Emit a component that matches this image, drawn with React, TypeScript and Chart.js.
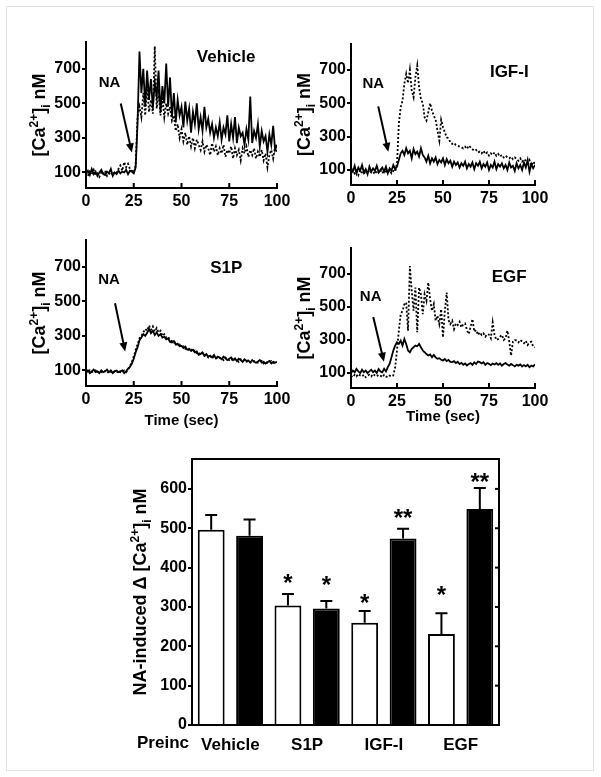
import React, { useEffect, useRef } from 'react';
import { Chart, registerables } from 'chart.js';
Chart.register(...registerables);

const FONT = '"Liberation Sans", Arial, sans-serif';
const W = 601;
const H = 777;

// ---------- time-course data (Ca2+ in nM, one reading per second) ----------
const TIME = [0,1,2,3,4,5,6,7,8,9,10,11,12,13,14,15,16,17,18,19,20,21,22,23,24,25,26,27,28,29,30,31,32,33,34,35,36,37,38,39,40,41,42,43,44,45,46,47,48,49,50,51,52,53,54,55,56,57,58,59,60,61,62,63,64,65,66,67,68,69,70,71,72,73,74,75,76,77,78,79,80,81,82,83,84,85,86,87,88,89,90,91,92,93,94,95,96,97,98,99,100];

const VEH_SOLID = [95,110,85,120,90,105,80,100,115,90,85,105,95,120,80,100,90,110,95,105,100,115,90,110,105,
  95,130,390,800,560,700,480,690,520,640,470,620,540,690,450,600,500,730,480,650,420,560,390,520,430,
  480,360,510,400,470,330,450,380,500,350,420,340,480,360,410,330,380,300,360,310,390,290,360,320,430,
  280,380,300,420,270,360,310,330,260,350,290,540,270,340,300,380,250,340,280,310,220,320,260,370,230,260];
const VEH_DOTTED = [100,80,105,90,115,85,95,75,100,90,110,80,95,85,105,90,100,120,140,110,160,130,150,120,110,
  100,140,420,480,420,560,430,600,450,520,440,830,470,560,430,540,420,500,440,480,400,430,340,380,300,
  350,280,330,260,310,250,300,240,290,260,230,280,220,260,240,200,270,220,250,200,240,210,260,190,230,
  210,250,180,240,200,230,170,240,210,250,190,230,200,240,180,220,190,230,170,210,130,200,230,180,250,220];

const IGF_SOLID = [110,90,125,80,115,95,130,85,105,75,120,90,110,95,125,85,100,115,90,120,80,110,95,130,105,
  120,160,200,215,190,230,200,215,170,225,195,210,180,230,190,175,150,185,140,170,150,175,135,160,145,
  170,130,165,140,155,120,150,130,145,115,140,125,150,110,135,120,145,105,140,125,150,110,135,120,145,
  100,130,115,150,105,135,120,140,110,130,100,145,115,125,95,140,110,130,100,145,115,160,90,135,110,130];
const IGF_DOTTED = [90,110,80,95,70,100,85,75,95,80,100,85,90,75,95,85,100,80,95,90,85,100,80,95,90,
  140,376,476,516,616,676,620,700,576,536,656,726,596,526,500,416,396,446,500,456,426,400,336,276,400,
  356,326,296,290,266,256,262,250,246,240,236,230,240,226,246,236,225,215,220,205,210,200,215,195,205,
  186,200,190,205,185,196,180,190,175,185,176,170,180,165,175,166,155,170,150,165,156,140,160,125,150,136];

const S1P_SOLID = [90,100,85,95,105,90,95,85,100,90,95,105,90,100,85,95,100,90,95,100,85,95,110,120,140,
  168,205,235,275,290,310,300,318,340,315,330,305,320,300,310,290,295,280,285,265,262,270,250,255,240,
  242,230,238,220,225,213,220,205,210,190,195,205,185,195,180,185,175,190,170,180,175,165,180,170,160,
  168,175,160,170,155,168,160,150,165,155,158,145,160,150,145,152,160,145,150,140,148,155,140,150,145,150];
const S1P_DOTTED = [95,85,100,90,95,100,85,95,90,100,95,85,95,90,100,95,85,100,90,95,100,90,105,125,150,
  180,220,250,285,300,320,340,330,360,335,355,325,345,320,330,300,310,290,295,275,270,260,265,245,250,
  235,240,225,230,215,220,205,215,200,205,190,200,185,190,175,185,170,180,175,165,172,170,160,175,165,
  160,168,155,165,160,150,165,155,160,150,155,150,145,155,150,145,150,155,140,150,145,150,155,145,140,145];

const EGF_SOLID = [100,115,105,125,110,100,120,105,115,100,110,120,105,115,100,125,110,105,126,110,136,156,196,236,266,
  286,276,296,266,306,276,236,226,246,256,266,262,276,256,236,226,215,206,212,196,210,195,186,190,180,
  176,185,172,180,168,166,172,160,168,155,162,150,158,146,155,160,150,165,155,170,166,158,165,150,160,
  156,148,158,152,160,150,158,145,155,160,152,145,155,148,140,150,145,152,140,148,140,150,135,145,140,152];
const EGF_DOTTED = [85,75,90,80,95,85,80,90,75,85,90,80,95,85,80,90,85,75,90,80,75,85,80,86,136,
  236,356,456,476,516,526,356,746,596,476,616,346,616,576,456,576,536,646,546,476,516,416,446,396,486,
  316,476,586,420,396,416,366,400,390,410,376,395,400,360,336,380,426,350,360,330,346,330,340,320,335,
  332,310,406,330,300,306,320,330,300,310,356,290,206,290,300,296,285,300,290,280,295,270,285,290,260,256];

const TRACE_Y_TICKS = [100, 300, 500, 700];
const TRACE_X_TICKS = [0, 25, 50, 75, 100];

// ---------- summary bar data ----------
const GROUPS = ['Vehicle', 'S1P', 'IGF-I', 'EGF'];
const CTRL_MEAN = [496, 304, 260, 231];
const CTRL_SEM = [38, 29, 30, 53];
const TREAT_MEAN = [481, 296, 474, 549];
const TREAT_SEM = [41, 19, 25, 53];
const CTRL_SIG = ['', '*', '*', '*'];
const TREAT_SIG = ['', '*', '**', '**'];
const CTRL_SIG_Y = [0, 376, 324, 345];
const TREAT_SIG_Y = [0, 369, 541, 632];
const BAR_Y_TICKS = [0, 100, 200, 300, 400, 500, 600];

// ---------- layout of panels ----------
const PANELS = [
  { name: 'Vehicle', solid: VEH_SOLID, dotted: VEH_DOTTED, area: { left: 86, right: 277, top: 42, bottom: 188 },
    nameAt: [58, 764], naAt: [12.3, 619], arrow: [18.2, 499, 24, 216], timeGap: 0 },
  { name: 'IGF-I', solid: IGF_SOLID, dotted: IGF_DOTTED, area: { left: 351, right: 535, top: 44, bottom: 185 },
    nameAt: [75.5, 686], naAt: [12.1, 618], arrow: [14.8, 481, 20.3, 209], timeGap: 0 },
  { name: 'S1P', solid: S1P_SOLID, dotted: S1P_DOTTED, area: { left: 86, right: 277, top: 240, bottom: 386 },
    nameAt: [65, 692], naAt: [12.1, 623], arrow: [15.2, 489, 20.5, 210], timeGap: 35 },
  { name: 'EGF', solid: EGF_SOLID, dotted: EGF_DOTTED, area: { left: 351, right: 535, top: 248, bottom: 388 },
    nameAt: [76.5, 680], naAt: [10.7, 562], arrow: [12.1, 438, 17.9, 169], timeGap: 29 },
];

const CA_LABEL = [
  { t: '[Ca', k: 'n' }, { t: '2+', k: 'sup' }, { t: ']', k: 'n' }, { t: 'i', k: 'sub' }, { t: ' nM', k: 'n' },
];
const BAR_LABEL = [
  { t: 'NA-induced \u0394 [Ca', k: 'n' }, { t: '2+', k: 'sup' }, { t: ']', k: 'n' }, { t: 'i', k: 'sub' }, { t: ' nM', k: 'n' },
];

function drawRich(ctx: any, segs: any[], cx: number, cy: number, size: number, rotate: boolean) {
  ctx.save();
  ctx.translate(cx, cy);
  if (rotate) ctx.rotate(-Math.PI / 2);
  const fontFor = (k: string) => `bold ${k === 'n' ? size : Math.round(size * 0.66)}px ${FONT}`;
  let total = 0;
  segs.forEach((s) => { ctx.font = fontFor(s.k); total += ctx.measureText(s.t).width; });
  let x = -total / 2;
  const base = size * 0.36;
  ctx.textBaseline = 'alphabetic';
  ctx.textAlign = 'left';
  ctx.fillStyle = '#000';
  segs.forEach((s) => {
    ctx.font = fontFor(s.k);
    const dy = s.k === 'sup' ? -size * 0.42 : s.k === 'sub' ? size * 0.25 : 0;
    ctx.fillText(s.t, x, base + dy);
    x += ctx.measureText(s.t).width;
  });
  ctx.restore();
}

function drawArrow(ctx: any, x1: number, y1: number, x2: number, y2: number) {
  const ang = Math.atan2(y2 - y1, x2 - x1);
  const hl = 9, hw = 4;
  ctx.save();
  ctx.strokeStyle = '#000';
  ctx.fillStyle = '#000';
  ctx.lineWidth = 2;
  ctx.beginPath();
  ctx.moveTo(x1, y1);
  ctx.lineTo(x2 - Math.cos(ang) * hl * 0.8, y2 - Math.sin(ang) * hl * 0.8);
  ctx.stroke();
  ctx.beginPath();
  ctx.moveTo(x2, y2);
  ctx.lineTo(x2 - Math.cos(ang) * hl - Math.sin(ang) * hw, y2 - Math.sin(ang) * hl + Math.cos(ang) * hw);
  ctx.lineTo(x2 - Math.cos(ang) * hl + Math.sin(ang) * hw, y2 - Math.sin(ang) * hl - Math.cos(ang) * hw);
  ctx.closePath();
  ctx.fill();
  ctx.restore();
}

const canvasStyle: any = { position: 'absolute', left: 0, top: 0, width: W, height: H };

function TraceChart({ p }: { p: any }) {
  const ref = useRef<HTMLCanvasElement>(null);
  useEffect(() => {
    const Wy = 60, Hx = 30;
    const a = p.area;
    const overlay = {
      id: 'overlay' + p.name,
      afterDraw(chart: any) {
        const ctx = chart.ctx;
        const xs = chart.scales.x, ys = chart.scales.y;
        const ca = chart.chartArea;
        ctx.save();
        // inward x tick marks
        ctx.strokeStyle = '#000';
        ctx.lineWidth = 2;
        TRACE_X_TICKS.slice(1).forEach((v) => {
          const px = xs.getPixelForValue(v);
          ctx.beginPath();
          ctx.moveTo(px, ca.bottom);
          ctx.lineTo(px, ca.bottom - 5);
          ctx.stroke();
        });
        ctx.fillStyle = '#000';
        // panel name
        ctx.font = `bold 17px ${FONT}`;
        ctx.textAlign = 'left';
        ctx.textBaseline = 'middle';
        ctx.fillText(p.name, xs.getPixelForValue(p.nameAt[0]), ys.getPixelForValue(p.nameAt[1]));
        // NA label
        ctx.font = `bold 15px ${FONT}`;
        ctx.textAlign = 'center';
        ctx.fillText('NA', xs.getPixelForValue(p.naAt[0]), ys.getPixelForValue(p.naAt[1]));
        // time label
        if (p.timeGap) {
          ctx.font = `bold 15px ${FONT}`;
          ctx.fillText('Time (sec)', (ca.left + ca.right) / 2, ca.bottom + p.timeGap);
        }
        ctx.restore();
        drawArrow(ctx, xs.getPixelForValue(p.arrow[0]), ys.getPixelForValue(p.arrow[1]),
          xs.getPixelForValue(p.arrow[2]), ys.getPixelForValue(p.arrow[3]));
        drawRich(ctx, CA_LABEL, ca.left - 47, (ca.top + ca.bottom) / 2, 18, true);
      },
    };
    const chart = new Chart(ref.current as any, {
      type: 'line',
      data: {
        labels: TIME,
        datasets: [
          { data: p.solid, borderColor: '#000', borderWidth: 1.8, pointRadius: 0, tension: 0, fill: false },
          { data: p.dotted, borderColor: '#000', borderWidth: 1.8, borderDash: [2, 2], pointRadius: 0, tension: 0, fill: false },
        ],
      },
      options: {
        responsive: false,
        animation: false,
        events: [],
        layout: { autoPadding: false, padding: { left: a.left - Wy, top: a.top, right: W - a.right, bottom: H - a.bottom - Hx } },
        plugins: { legend: { display: false }, tooltip: { enabled: false } },
        scales: {
          x: {
            type: 'linear', min: 0, max: 100,
            afterFit: (s: any) => { s.height = Hx; },
            afterBuildTicks: (s: any) => { s.ticks = TRACE_X_TICKS.map((v) => ({ value: v })); },
            grid: { display: true, drawOnChartArea: false, drawTicks: false },
            border: { display: true, color: '#000', width: 2 },
            ticks: { color: '#000', font: { family: FONT, size: 16, weight: 'bold' }, padding: 4, maxRotation: 0, autoSkip: false },
          },
          y: {
            type: 'linear', min: 10, max: 855,
            afterFit: (s: any) => { s.width = Wy; },
            afterBuildTicks: (s: any) => { s.ticks = TRACE_Y_TICKS.map((v) => ({ value: v })); },
            grid: { display: true, drawOnChartArea: false, drawTicks: true, tickLength: 4, color: '#000', lineWidth: 2 },
            border: { display: true, color: '#000', width: 2 },
            ticks: { color: '#000', font: { family: FONT, size: 16, weight: 'bold' }, padding: 1, autoSkip: false },
          },
        },
      } as any,
      plugins: [overlay],
    });
    return () => chart.destroy();
  }, [p]);
  return <canvas ref={ref} width={W} height={H} style={canvasStyle} />;
}

function BarChart() {
  const ref = useRef<HTMLCanvasElement>(null);
  useEffect(() => {
    const Wy = 60, Hx = 40;
    const area = { left: 192, right: 499, top: 459, bottom: 725 };
    const overlay = {
      id: 'barOverlay',
      afterDraw(chart: any) {
        const ctx = chart.ctx;
        const ys = chart.scales.y, xs = chart.scales.x;
        const ca = chart.chartArea;
        ctx.save();
        ctx.strokeStyle = '#000';
        ctx.lineWidth = 2;
        ctx.strokeRect(ca.left, ca.top, ca.right - ca.left, ca.bottom - ca.top);
        // inward ticks on right frame
        BAR_Y_TICKS.slice(1).forEach((v) => {
          const py = ys.getPixelForValue(v);
          ctx.beginPath();
          ctx.moveTo(ca.right - 4, py);
          ctx.lineTo(ca.right, py);
          ctx.stroke();
        });
        // error bars and significance marks
        const sets = [
          { mean: CTRL_MEAN, sem: CTRL_SEM, sig: CTRL_SIG, sigY: CTRL_SIG_Y },
          { mean: TREAT_MEAN, sem: TREAT_SEM, sig: TREAT_SIG, sigY: TREAT_SIG_Y },
        ];
        sets.forEach((s, d) => {
          const meta = chart.getDatasetMeta(d);
          meta.data.forEach((bar: any, i: number) => {
            const x = bar.x;
            const yTop = ys.getPixelForValue(s.mean[i]);
            const yErr = ys.getPixelForValue(s.mean[i] + s.sem[i]);
            ctx.beginPath();
            ctx.moveTo(x, yTop);
            ctx.lineTo(x, yErr);
            ctx.moveTo(x - 6, yErr);
            ctx.lineTo(x + 6, yErr);
            ctx.stroke();
            if (s.sig[i]) {
              ctx.fillStyle = '#000';
              ctx.font = `bold 24px ${FONT}`;
              ctx.textAlign = 'center';
              ctx.textBaseline = 'alphabetic';
              ctx.fillText(s.sig[i], x, ys.getPixelForValue(s.sigY[i]) + 24 * 0.57);
            }
          });
        });
        // Preinc label
        ctx.fillStyle = '#000';
        ctx.font = `bold 17px ${FONT}`;
        ctx.textAlign = 'left';
        ctx.textBaseline = 'top';
        ctx.fillText('Preinc', 137, xs.top + 10);
        ctx.restore();
        drawRich(ctx, BAR_LABEL, 140, (ca.top + ca.bottom) / 2, 18, true);
      },
    };
    const chart = new Chart(ref.current as any, {
      type: 'bar',
      data: {
        labels: GROUPS,
        datasets: [
          { data: CTRL_MEAN, backgroundColor: '#fff', borderColor: '#000', borderWidth: 2, categoryPercentage: 1, barPercentage: 0.7 },
          { data: TREAT_MEAN, backgroundColor: '#000', borderColor: '#000', borderWidth: 2, categoryPercentage: 1, barPercentage: 0.7 },
        ],
      },
      options: {
        responsive: false,
        animation: false,
        events: [],
        layout: { autoPadding: false, padding: { left: area.left - Wy, top: area.top, right: W - area.right, bottom: H - area.bottom - Hx } },
        plugins: { legend: { display: false }, tooltip: { enabled: false } },
        scales: {
          x: {
            afterFit: (s: any) => { s.height = Hx; },
            grid: { display: false },
            border: { display: true, color: '#000', width: 2 },
            ticks: { color: '#000', font: { family: FONT, size: 17, weight: 'bold' }, padding: 2, maxRotation: 0, autoSkip: false },
          },
          y: {
            type: 'linear', min: 0, max: 676,
            afterFit: (s: any) => { s.width = Wy; },
            afterBuildTicks: (s: any) => { s.ticks = BAR_Y_TICKS.map((v) => ({ value: v })); },
            grid: { display: true, drawOnChartArea: false, drawTicks: true, tickLength: 4, color: '#000', lineWidth: 2 },
            border: { display: true, color: '#000', width: 2 },
            ticks: { color: '#000', font: { family: FONT, size: 16, weight: 'bold' }, padding: 1, autoSkip: false },
          },
        },
      } as any,
      plugins: [overlay],
    });
    return () => chart.destroy();
  }, []);
  return <canvas ref={ref} width={W} height={H} style={canvasStyle} />;
}

export default function App() {
  return (
    <div style={{ position: 'absolute', left: 0, top: 0, width: W, height: H, background: '#fff', overflow: 'hidden' }}>
      <div style={{ position: 'absolute', left: 6, top: 6, width: 588, height: 765, border: '1px solid #e3e3e3', boxSizing: 'border-box' }} />
      {PANELS.map((p) => <TraceChart key={p.name} p={p} />)}
      <BarChart />
    </div>
  );
}
